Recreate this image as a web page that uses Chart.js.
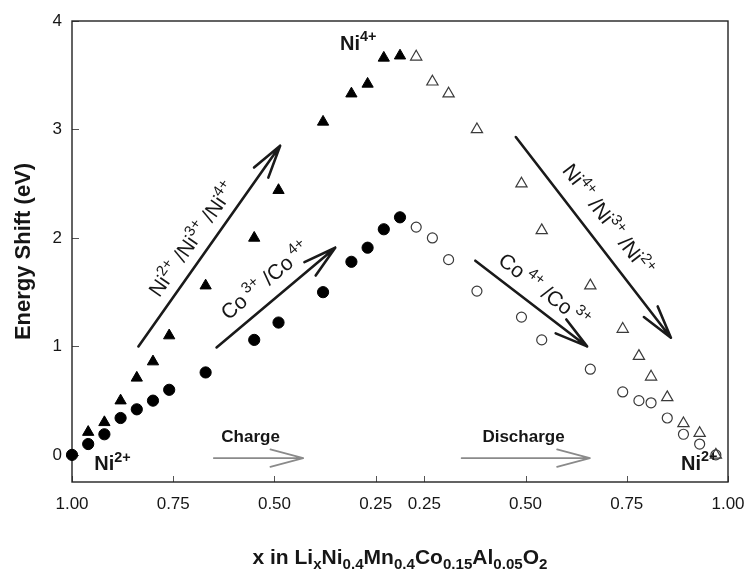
<!DOCTYPE html>
<html>
<head>
<meta charset="utf-8">
<script src="https://cdn.jsdelivr.net/npm/chart.js@4.4.1/dist/chart.umd.min.js"></script>
<style>
  html, body { margin: 0; padding: 0; background: #fff; }
</style>
</head>
<body>
<canvas id="shiftChart" width="749" height="576"></canvas>
<script>
(function () {
    // Li content x, charge branch (1.00 -> 0.19) and discharge branch (0.23 -> 0.97)
    const chargeX = [1.00, 0.96, 0.92, 0.88, 0.84, 0.80, 0.76, 0.67, 0.55, 0.49, 0.38, 0.31, 0.27, 0.23, 0.19];
    const chargeCo = [0.00, 0.10, 0.19, 0.34, 0.42, 0.50, 0.60, 0.76, 1.06, 1.22, 1.50, 1.78, 1.91, 2.08, 2.19];
    const chargeNi = [null, 0.21, 0.30, 0.50, 0.71, 0.86, 1.10, 1.56, 2.00, 2.44, 3.07, 3.33, 3.42, 3.66, 3.68];

    const dischargeX = [0.23, 0.27, 0.31, 0.38, 0.49, 0.54, 0.66, 0.74, 0.78, 0.81, 0.85, 0.89, 0.93, 0.97];
    const dischargeCo = [2.10, 2.00, 1.80, 1.51, 1.27, 1.06, 0.79, 0.58, 0.50, 0.48, 0.34, 0.19, 0.10, 0.00];
    const dischargeNi = [3.67, 3.44, 3.33, 3.00, 2.50, 2.07, 1.56, 1.16, 0.91, 0.72, 0.53, 0.29, 0.20, 0.00];

    const chargeTicks = [1.00, 0.75, 0.50, 0.25];
    const dischargeTicks = [0.25, 0.50, 0.75, 1.00];
    const energyTicks = [0, 1, 2, 3, 4];

    // the x axis runs 1.00 -> 0.25 for charge, then a small gap, then 0.25 -> 1.00 for discharge
    const GAP = 0.12;
    const posCharge = x => 1 - x;
    const posDischarge = x => 0.75 + GAP + (x - 0.25);

    const tickPos = [...chargeTicks.map(posCharge), ...dischargeTicks.map(posDischarge)];
    const tickLabels = [...chargeTicks, ...dischargeTicks].map(v => v.toFixed(2));

    const FONT = '"Liberation Sans", Arial, Helvetica, sans-serif';
    const INK = '#161616';

    // annotations, in axis units (position along axis, eV)
    const arrows = [
        { from: [0.164, 1.00], to: [0.514, 2.85], color: '#1a1a1a', width: 2.6 },
        { from: [0.357, 0.99], to: [0.650, 1.91], color: '#1a1a1a', width: 2.6 },
        { from: [1.096, 2.93], to: [1.479, 1.08], color: '#1a1a1a', width: 2.6 },
        { from: [0.996, 1.79], to: [1.272, 1.00], color: '#1a1a1a', width: 2.6 },
        { from: [0.350, -0.03], to: [0.571, -0.03], color: '#8a8a8a', width: 1.6 },
        { from: [0.962, -0.03], to: [1.279, -0.03], color: '#8a8a8a', width: 1.6 }
    ];

    const slantLabels = [
        { at: [0.296, 1.99], angle: -54.8, parts: ['Ni', ['2+', 1], ' /Ni', ['3+', 1], ' /Ni', ['4+', 1]] },
        { at: [0.476, 1.61], angle: -40.0, parts: ['Co', [' 3+', 1], ' /Co', [' 4+', 1]] },
        { at: [1.325, 2.17], angle: 52.4, parts: ['Ni', ['4+', 1], ' /Ni', ['3+', 1], ' /Ni', ['2+', 1]] },
        { at: [1.167, 1.52], angle: 37.5, parts: ['Co', [' 4+', 1], ' /Co', [' 3+', 1]] }
    ];

    const flatLabels = [
        { at: [0.662, 3.735], size: 20, weight: 'bold', align: 'left', parts: ['Ni', ['4+', 1]] },
        { at: [0.055, -0.142], size: 20, weight: 'bold', align: 'left', parts: ['Ni', ['2+', 1]] },
        { at: [1.504, -0.136], size: 20, weight: 'bold', align: 'left', parts: ['Ni', ['2+', 1]] },
        { at: [0.441, 0.123], size: 17, weight: 'bold', align: 'center', parts: ['Charge'] },
        { at: [1.115, 0.120], size: 17, weight: 'bold', align: 'center', parts: ['Discharge'] }
    ];

    const xTitle = ['x in Li', ['x', -1], 'Ni', ['0.4', -1], 'Mn', ['0.4', -1], 'Co', ['0.15', -1], 'Al', ['0.05', -1], 'O', ['2', -1]];

    function drawRich(ctx, parts, x, y, size, weight, align) {
        let total = 0;
        const segs = parts.map(p => {
            const t = typeof p === 'string' ? p : p[0];
            const k = typeof p === 'string' ? 0 : p[1];
            const fs = k ? size * 0.72 : size;
            ctx.font = `${weight} ${fs}px ${FONT}`;
            const w = ctx.measureText(t).width;
            total += w;
            return { t, k, fs, w };
        });
        let cx = align === 'center' ? x - total / 2 : x;
        ctx.textAlign = 'left';
        ctx.textBaseline = 'alphabetic';
        segs.forEach(s => {
            ctx.font = `${weight} ${s.fs}px ${FONT}`;
            const dy = s.k > 0 ? -size * 0.42 : (s.k < 0 ? size * 0.24 : 0);
            ctx.fillText(s.t, cx, y + dy);
            cx += s.w;
        });
    }

    function drawArrow(ctx, x1, y1, x2, y2, color, width) {
        const a = Math.atan2(y2 - y1, x2 - x1);
        const len = 34, spread = 0.26;
        ctx.save();
        ctx.strokeStyle = color;
        ctx.lineWidth = width;
        ctx.lineCap = 'round';
        ctx.beginPath();
        ctx.moveTo(x1, y1);
        ctx.lineTo(x2, y2);
        [-1, 1].forEach(s => {
            ctx.moveTo(x2, y2);
            ctx.lineTo(x2 - len * Math.cos(a + s * spread), y2 - len * Math.sin(a + s * spread));
        });
        ctx.stroke();
        ctx.restore();
    }

    const framePlugin = {
        id: 'frame',
        beforeDatasetsDraw(chart) {
            const { ctx, chartArea: ca, scales: { x, y } } = chart;
            ctx.save();
            ctx.strokeStyle = '#555';
            ctx.lineWidth = 1;
            x.ticks.forEach(t => {
                const px = Math.round(x.getPixelForValue(t.value)) + 0.5;
                ctx.beginPath();
                ctx.moveTo(px, ca.bottom);
                ctx.lineTo(px, ca.bottom - 6);
                ctx.stroke();
            });
            y.ticks.forEach(t => {
                const py = Math.round(y.getPixelForValue(t.value)) + 0.5;
                ctx.beginPath();
                ctx.moveTo(ca.left, py);
                ctx.lineTo(ca.left + 7, py);
                ctx.stroke();
            });
            ctx.strokeStyle = '#222';
            ctx.lineWidth = 1.4;
            ctx.strokeRect(ca.left, ca.top, ca.right - ca.left, ca.bottom - ca.top);
            ctx.restore();
        },
        afterDatasetsDraw(chart) {
            const { ctx, chartArea: ca, scales: { x, y } } = chart;
            const px = p => [x.getPixelForValue(p[0]), y.getPixelForValue(p[1])];
            arrows.forEach(a => {
                const [x1, y1] = px(a.from);
                const [x2, y2] = px(a.to);
                drawArrow(ctx, x1, y1, x2, y2, a.color, a.width);
            });
            ctx.save();
            ctx.fillStyle = INK;
            slantLabels.forEach(l => {
                const [cx, cy] = px(l.at);
                ctx.save();
                ctx.translate(cx, cy);
                ctx.rotate(l.angle * Math.PI / 180);
                drawRich(ctx, l.parts, 0, 21 * 0.36, 21, 'normal', 'center');
                ctx.restore();
            });
            flatLabels.forEach(l => {
                const [lx, ly] = px(l.at);
                drawRich(ctx, l.parts, lx, ly, l.size, l.weight, l.align);
            });
            drawRich(ctx, xTitle, (ca.left + ca.right) / 2, 564, 21, 'bold', 'center');
            ctx.restore();
        }
    };

    const toPoints = (xs, ys, pos) => xs.map((v, i) => ({ x: pos(v), y: ys[i] })).filter(p => p.y !== null);

    new Chart(document.getElementById('shiftChart').getContext('2d'), {
        type: 'scatter',
        data: {
            datasets: [
                {
                    label: 'Ni charge',
                    data: toPoints(chargeX, chargeNi, posCharge),
                    pointStyle: 'triangle', pointRadius: 6.5, borderWidth: 1,
                    backgroundColor: '#000', borderColor: '#000', clip: false
                },
                {
                    label: 'Co charge',
                    data: toPoints(chargeX, chargeCo, posCharge),
                    pointStyle: 'circle', pointRadius: 5.6, borderWidth: 1,
                    backgroundColor: '#000', borderColor: '#000', clip: false
                },
                {
                    label: 'Ni discharge',
                    data: toPoints(dischargeX, dischargeNi, posDischarge),
                    pointStyle: 'triangle', pointRadius: 6.5, borderWidth: 1.2,
                    backgroundColor: 'rgba(255,255,255,0)', borderColor: '#3a3a3a', clip: false
                },
                {
                    label: 'Co discharge',
                    data: toPoints(dischargeX, dischargeCo, posDischarge),
                    pointStyle: 'circle', pointRadius: 5, borderWidth: 1.2,
                    backgroundColor: 'rgba(255,255,255,0)', borderColor: '#3a3a3a', clip: false
                }
            ]
        },
        options: {
            responsive: false,
            animation: false,
            layout: { padding: { top: 21, right: 21, left: 0, bottom: 0 } },
            scales: {
                x: {
                    type: 'linear',
                    min: 0,
                    max: posDischarge(1.00),
                    grid: { display: false },
                    border: { display: false },
                    afterBuildTicks: s => { s.ticks = tickPos.map(v => ({ value: v })); },
                    afterFit: s => { s.height = 94; s.paddingLeft = 0; s.paddingRight = 0; },
                    ticks: {
                        autoSkip: false, maxRotation: 0, padding: 4,
                        color: INK, font: { family: FONT, size: 17 },
                        callback: (v, i) => tickLabels[i]
                    }
                },
                y: {
                    min: -0.25,
                    max: 4,
                    grid: { display: false },
                    border: { display: false },
                    afterBuildTicks: s => { s.ticks = energyTicks.map(v => ({ value: v })); },
                    afterFit: s => { s.width = 72; s.paddingTop = 0; s.paddingBottom = 0; },
                    ticks: {
                        padding: 2,
                        color: INK, font: { family: FONT, size: 17 },
                        callback: v => String(v)
                    },
                    title: {
                        display: true,
                        text: 'Energy Shift (eV)',
                        color: INK,
                        font: { family: FONT, size: 22, weight: 'bold' },
                        padding: { top: 11, bottom: 0 }
                    }
                }
            },
            plugins: {
                legend: { display: false },
                tooltip: { enabled: false }
            }
        },
        plugins: [framePlugin]
    });
})();
</script>
</body>
</html>
